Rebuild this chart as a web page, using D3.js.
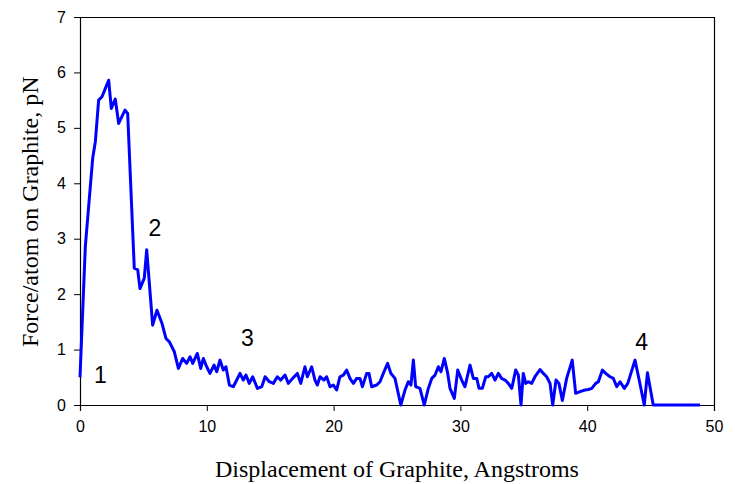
<!DOCTYPE html>
<html>
<head>
<meta charset="utf-8">
<script src="https://cdn.jsdelivr.net/npm/d3@7"></script>
<style>
  html, body { margin: 0; padding: 0; background: #fff; }
  svg { display: block; }
</style>
</head>
<body>
<svg id="chart" width="735" height="484"></svg>
<script>
// ---- data ----
const displacement = [0,0.42,1.0,1.21,1.47,1.73,2.26,2.47,2.78,3.05,3.55,3.76,4.28,4.55,4.73,5.07,5.26,5.73,6.07,6.47,6.78,7.05,7.44,7.76,8.1,8.41,8.68,8.89,9.25,9.52,9.73,9.99,10.25,10.57,10.78,11.04,11.3,11.51,11.78,12.09,12.36,12.62,12.88,13.09,13.35,13.62,13.99,14.33,14.6,14.93,15.25,15.56,15.83,16.17,16.43,16.77,17.14,17.41,17.74,17.93,18.27,18.53,18.72,18.93,19.24,19.45,19.72,19.98,20.24,20.5,20.77,21.03,21.29,21.56,21.82,22.08,22.27,22.61,22.79,23.0,23.4,23.66,23.92,24.26,24.52,24.84,25.3,25.63,25.89,26.1,26.29,26.47,26.81,27.15,27.47,27.74,28.0,28.26,28.47,28.73,29.0,29.18,29.52,29.79,30.1,30.36,30.76,31.02,31.29,31.47,31.73,32.0,32.2,32.47,32.73,32.99,33.25,33.52,33.78,34.05,34.36,34.57,34.78,34.96,35.15,35.36,35.62,35.88,36.28,36.54,36.8,37.07,37.28,37.54,37.77,38.04,38.38,38.82,39.09,39.43,39.83,40.09,40.36,40.67,40.88,41.2,41.46,41.8,42.06,42.33,42.59,42.93,43.2,43.77,44.1,44.5,44.75,45.21,48.9];
const force = [0.5,2.86,4.45,4.75,5.5,5.56,5.86,5.35,5.52,5.08,5.32,5.26,2.47,2.44,2.1,2.29,2.8,1.44,1.71,1.47,1.2,1.14,0.96,0.66,0.84,0.75,0.87,0.75,0.93,0.66,0.84,0.69,0.57,0.72,0.6,0.81,0.63,0.69,0.36,0.33,0.45,0.57,0.45,0.54,0.39,0.51,0.30,0.33,0.51,0.42,0.39,0.51,0.45,0.54,0.39,0.48,0.57,0.39,0.69,0.51,0.69,0.45,0.36,0.51,0.45,0.51,0.33,0.36,0.27,0.51,0.54,0.63,0.48,0.39,0.48,0.48,0.33,0.57,0.57,0.33,0.36,0.42,0.57,0.75,0.57,0.48,0.0,0.27,0.42,0.36,0.81,0.33,0.30,0.0,0.30,0.48,0.54,0.69,0.6,0.84,0.57,0.30,0.12,0.63,0.45,0.33,0.72,0.48,0.48,0.30,0.30,0.51,0.51,0.57,0.45,0.57,0.48,0.45,0.39,0.30,0.63,0.54,0.0,0.57,0.39,0.42,0.39,0.51,0.64,0.57,0.51,0.39,0.0,0.45,0.39,0.08,0.48,0.81,0.21,0.24,0.27,0.28,0.30,0.39,0.42,0.63,0.57,0.51,0.48,0.33,0.42,0.30,0.39,0.81,0.45,0.0,0.58,0.0,0.0];
const xTicks = [0,10,20,30,40,50];
const yTicks = [0,1,2,3,4,5,6,7];
const annotationLabels = ["1","2","3","4"];
const annotationX = [1.6,5.9,13.2,44.3];
const annotationY = [0.4,3.05,1.07,1.0];
const xTitle = "Displacement of Graphite, Angstroms";
const yTitle = "Force/atom on Graphite, pN";

// ---- layout ----
const svg = d3.select("#chart");
const mLeft = 80, mRight = 714, mTop = 17, mBottom = 405;
const x = d3.scaleLinear().domain([0,50]).range([mLeft,mRight]);
const y = d3.scaleLinear().domain([0,7]).range([mBottom,mTop]);

// frame (top & right)
svg.append("path")
  .attr("d", `M${mLeft},${mTop+0.5}H${mRight+0.5}V${mBottom}`)
  .attr("fill","none").attr("stroke","#000").attr("stroke-width",1.2);

const xAxis = svg.append("g").attr("transform",`translate(0,${mBottom})`)
  .call(d3.axisBottom(x).tickValues(xTicks).tickSize(6).tickPadding(10).tickFormat(d3.format("d")));
const yAxis = svg.append("g").attr("transform",`translate(${mLeft},0)`)
  .call(d3.axisLeft(y).tickValues(yTicks).tickSize(6).tickPadding(8).tickFormat(d3.format("d")));
[xAxis,yAxis].forEach(g=>{
  g.select(".domain").attr("stroke","#000").attr("stroke-width",1.2);
  g.selectAll(".tick line").attr("stroke","#000").attr("stroke-width",1);
  g.selectAll(".tick text").attr("fill","#000")
    .style("font-family","Liberation Sans, Arial, sans-serif").style("font-size","16px");
});

// line
const pts = displacement.map((d,i)=>[d,force[i]]);
svg.append("path").datum(pts)
  .attr("fill","none").attr("stroke","#0000ff").attr("stroke-width",3)
  .attr("stroke-linejoin","round")
  .attr("d", d3.line().x(d=>x(d[0])).y(d=>y(d[1])));

// annotations
svg.selectAll("text.ann").data(annotationLabels).enter().append("text")
  .attr("class","ann")
  .attr("x",(d,i)=>x(annotationX[i]))
  .attr("y",(d,i)=>y(annotationY[i]))
  .attr("text-anchor","middle")
  .style("font-family","Liberation Sans, Arial, sans-serif").style("font-size","23px")
  .attr("fill","#000").text(d=>d);

// titles
svg.append("text").attr("x",(mLeft+mRight)/2).attr("y",477)
  .attr("text-anchor","middle")
  .style("font-family","Liberation Serif, Times New Roman, serif").style("font-size","24px")
  .attr("fill","#000").text(xTitle);

svg.append("defs").append("clipPath").attr("id","yclip")
  .append("rect").attr("x",0).attr("y",73).attr("width",80).attr("height",420);
svg.append("g").attr("clip-path","url(#yclip)")
  .append("text").attr("transform","translate(38,347) rotate(-90)")
  .attr("text-anchor","start")
  .style("font-family","Liberation Serif, Times New Roman, serif").style("font-size","24px")
  .attr("fill","#000").text(yTitle);
</script>
</body>
</html>
